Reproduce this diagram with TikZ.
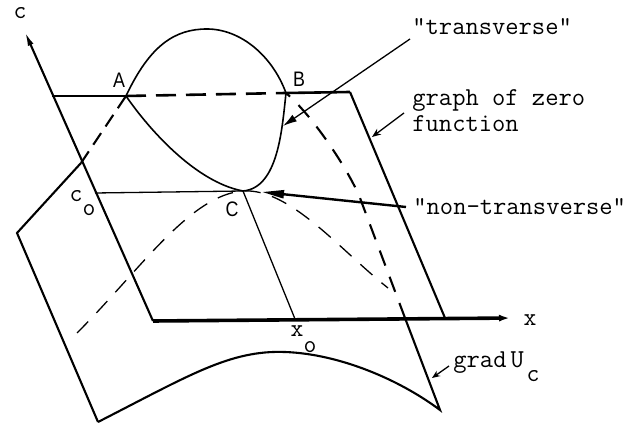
\documentclass[tikz,border=0pt]{standalone}
\usepackage{fontspec}
\setmainfont{Liberation Sans}
\newfontfamily\narrowsans[FakeStretch=0.85]{Liberation Sans}
\usetikzlibrary{arrows.meta}
\begin{document}
\begin{tikzpicture}[x=0.5pt,y=-0.5pt,
  curve/.style={line width=0.8pt},
  thinline/.style={line width=0.65pt},
  edge/.style={line width=1.05pt},
  topedge/.style={line width=1.3pt},
  axisline/.style={line width=1.05pt},
  xaxisline/.style={line width=1.8pt},
  dashA/.style={dash pattern=on 10pt off 5pt},
  dashB/.style={dash pattern=on 8pt off 6pt},
  dashC/.style={dash pattern=on 7pt off 4pt},
  pointlab/.style={inner sep=0pt, font=\narrowsans\fontsize{10.5}{12}\selectfont},
  axlab/.style={inner sep=0pt, font=\ttfamily\fontsize{12.5}{13}\selectfont},
  txt/.style={inner sep=0pt, anchor=base west, font=\ttfamily\fontsize{12.9}{14}\selectfont},
  pointer/.style={line width=0.65pt}
]
\path[fill=white] (0,0) rectangle (636,426);
\useasboundingbox (0,0) rectangle (636,426);

% key points
\coordinate (cTip) at (25,32);
\coordinate (P1) at (52,96);
\coordinate (O) at (153,321);
\coordinate (xTip) at (514,318);
\coordinate (P2) at (350,92);
\coordinate (P3) at (445,318);
\coordinate (A) at (126,96);
\coordinate (B) at (286,93);
\coordinate (C) at (243,191);
\coordinate (S1) at (17,233);
\coordinate (S2) at (98,422);
\coordinate (S3) at (440,410);
\coordinate (K) at (81,163);
\coordinate (Top) at (207,29);
\coordinate (R1) at (360,198);
\coordinate (R2) at (405,318);
\coordinate (Bot) at (285,352);
\coordinate (C0) at (95,193);
\coordinate (X0) at (295,319);
\coordinate (D1) at (77,333);
\coordinate (D2) at (388,288);

% surface grad U_c
\draw[edge] (K) -- (S1) -- (S2);
\draw[edge,dashC] (K) -- (A);
\draw[edge] (S2) .. controls (190,375) and (230,350) .. (Bot)
  .. controls (340,354) and (400,380) .. (S3) -- (R2);
\draw[edge,dashB] (R2) -- (R1) .. controls (350,173) and (315,118) .. (B);

% plane (graph of zero function)
\draw[topedge] (P1) -- (A);
\draw[topedge,dashA] (A) -- (B);
\draw[topedge] (B) -- (P2);
\draw[edge] (P2) -- (P3);
\draw[axisline,-{Latex[length=7pt,width=3pt]}] (O) -- (cTip);
\draw[xaxisline,-{Latex[length=7.5pt,width=3.2pt]}] (O) -- (xTip);

% intersection curves
\draw[curve] (A) .. controls (150,45) and (175,29) .. (Top)
  .. controls (240,29) and (272,55) .. (B);
\draw[curve] (A) .. controls (148,128) and (195,182) .. (C);
\draw[curve] (C) .. controls (278,188) and (282,130) .. (B);
\draw[thinline] (C0) -- (C);
\draw[thinline] (C) -- (X0);
\draw[thinline,dashB] (D1) .. controls (140,270) and (190,195) .. (C)
  .. controls (290,188) and (340,250) .. (D2);

% point and axis labels
\node[pointlab] (lA) at (119,80) {A};
\node[pointlab] (lB) at (299,79) {B};
\node[pointlab] (lC) at (232,209) {C};
\node[axlab] (lc) at (20,13) {c};
\node[axlab] (lx) at (530,320) {x};
\node[axlab] (lc0) at (76,196) {c};
\node[axlab] (lc0s) at (89,210) {o};
\node[axlab] (lx0) at (297,331) {x};
\node[axlab] (lx0s) at (310,347) {o};

% texts
\node[txt] (ttr) at (412,35) {"transverse"};
\node[txt] (tgr1) at (412,106) {graph of zero};
\node[txt] (tgr2) at (412,132) {function};
\node[txt] (tnt) at (413,215) {"non-transverse"};
\node[txt] (tgd) at (453,368) {grad\hspace{2pt}U};
\node[axlab] (tgds) at (533,376) {c};

% pointers
\coordinate (trS) at (410,39);
\coordinate (trE) at (283,126);
\coordinate (grS) at (404,113);
\coordinate (grE) at (372,137);
\coordinate (ntS) at (406,207);
\coordinate (ntE) at (262,192);
\coordinate (gdS) at (449,366);
\coordinate (gdE) at (432,378);
\draw[pointer,-{Latex[length=7pt,width=4pt]}] (trS) -- (trE);
\draw[pointer,-{Stealth[length=4.5pt,width=3.5pt]}] (grS) -- (grE);
\draw[line width=1.2pt,-{Triangle[length=11pt,width=4pt]}] (ntS) -- (ntE);
\draw[pointer,-{Stealth[length=4pt,width=3.2pt]}] (gdS) -- (gdE);
\end{tikzpicture}
\end{document}
